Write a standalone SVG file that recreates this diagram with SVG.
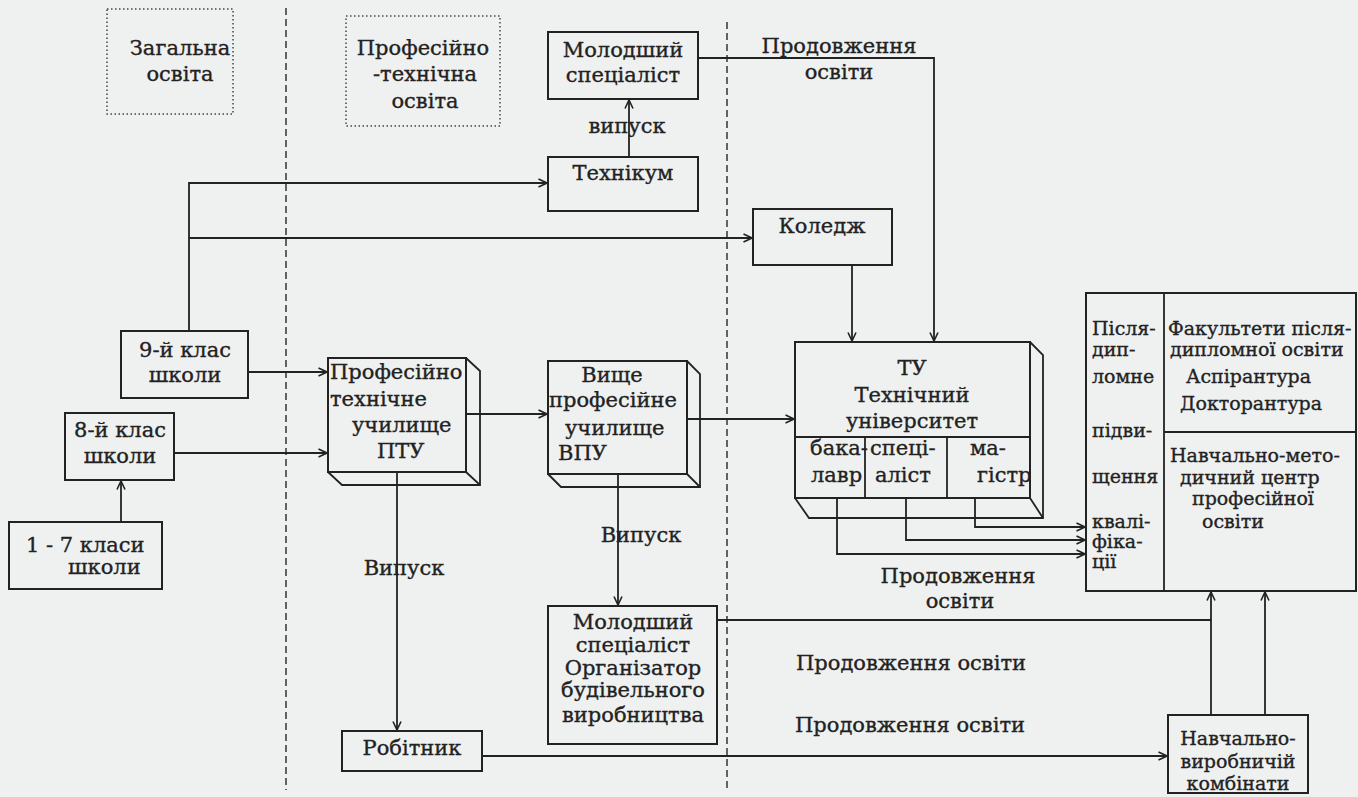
<svg xmlns="http://www.w3.org/2000/svg" width="1358" height="797" viewBox="0 0 1358 797">
<style>
text{font-family:"DejaVu Serif","Liberation Serif",serif;fill:#222;stroke:#222;stroke-width:0.35;font-size:21px}
.m{text-anchor:middle}
.s{font-size:19px}
.box{fill:none;stroke:#222;stroke-width:2}
.face{fill:none;stroke:#222;stroke-width:1.8;stroke-linejoin:miter}
.ln{fill:none;stroke:#222;stroke-width:1.8}
.arr{marker-end:url(#ah)}
.dash{fill:none;stroke:#333;stroke-width:1.5;stroke-dasharray:7 4}
.dot{fill:none;stroke:#444;stroke-width:1.5;stroke-dasharray:1.5 2.5}
</style>
<defs>
<marker id="ah" viewBox="0 0 10 10" refX="9.5" refY="5" markerWidth="10" markerHeight="10" markerUnits="userSpaceOnUse" orient="auto">
<path d="M1,1 L9.5,5 L1,9" fill="none" stroke="#222" stroke-width="1.6"/>
</marker>
</defs>
<rect width="1358" height="797" fill="#eff1f0"/>

<g id="dividers">
<line class="dash" x1="286" y1="8" x2="286" y2="790"/>
<line class="dash" x1="727" y1="22" x2="727" y2="790"/>
</g>

<g id="connectors">
<path class="ln arr" d="M189,331 V183 H547"/>
<path class="ln arr" d="M189,238 H752"/>
<path class="ln arr" d="M248,372 H327"/>
<path class="ln arr" d="M174,453 H327"/>
<path class="ln arr" d="M121,522 V481"/>
<path class="ln arr" d="M629,157 V100"/>
<path class="ln arr" d="M698,58 H934 V341"/>
<path class="ln arr" d="M852,265 V341"/>
<path class="ln arr" d="M466,414 H547"/>
<path class="ln arr" d="M687,419 H794"/>
<path class="ln arr" d="M397,472 V730"/>
<path class="ln arr" d="M618,474 V605"/>
<path class="ln arr" d="M837,498 V554 H1085"/>
<path class="ln arr" d="M906,498 V540 H1085"/>
<path class="ln arr" d="M975,498 V527 H1085"/>
<path class="ln" d="M717,620 H1211"/>
<path class="ln arr" d="M1211,715 V592"/>
<path class="ln arr" d="M1265,715 V592"/>
<path class="ln arr" d="M482,756 H1167"/>
<text class="m" x="627" y="133">випуск</text>
<text class="m" x="839" y="53">Продовження</text>
<text class="m" x="839" y="79">освіти</text>
<text class="m" x="404" y="575">Випуск</text>
<text class="m" x="641" y="542">Випуск</text>
<text class="m" x="958" y="583">Продовження</text>
<text class="m" x="960" y="608">освіти</text>
<text class="m" x="911" y="670">Продовження освіти</text>
<text class="m" x="910" y="732">Продовження освіти</text>
</g>

<g id="general-education">
<rect class="dot" x="107" y="9" width="126" height="105"/>
<text class="m" x="180" y="55">Загальна</text>
<text class="m" x="180" y="81">освіта</text>
</g>

<g id="vocational-education">
<rect class="dot" x="346" y="16" width="154" height="110"/>
<text class="m" x="423" y="55">Професійно</text>
<text class="m" x="425" y="81">-технічна</text>
<text class="m" x="425" y="108">освіта</text>
</g>

<g id="junior-specialist-1">
<rect class="box" x="548" y="32" width="150" height="67"/>
<text class="m" x="623" y="57">Молодший</text>
<text class="m" x="623" y="82">спеціаліст</text>
</g>

<g id="technikum">
<rect class="box" x="548" y="157" width="150" height="54"/>
<text class="m" x="623" y="180">Технікум</text>
</g>

<g id="college">
<rect class="box" x="753" y="209" width="139" height="56"/>
<text class="m" x="822" y="233">Коледж</text>
</g>

<g id="grade-9">
<rect class="box" x="121" y="331" width="127" height="67"/>
<text class="m" x="185" y="357">9-й клас</text>
<text class="m" x="185" y="382">школи</text>
</g>

<g id="grade-8">
<rect class="box" x="65" y="413" width="109" height="67"/>
<text class="m" x="120" y="437">8-й клас</text>
<text class="m" x="120" y="463">школи</text>
</g>

<g id="grades-1-7">
<rect class="box" x="9" y="522" width="153" height="67"/>
<text x="26" y="552">1 - 7 класи</text>
<text x="68" y="574">школи</text>
</g>

<g id="ptu">
<rect class="box" x="328" y="358" width="138" height="114"/>
<path class="face" d="M466,358 L480,371 V485 H342 L328,472"/>
<line class="face" x1="466" y1="472" x2="480" y2="485"/>
<text x="330" y="379">Професійно</text>
<text x="330" y="406">технічне</text>
<text x="352" y="432">училище</text>
<text x="377" y="458">ПТУ</text>
</g>

<g id="vpu">
<rect class="box" x="548" y="361" width="139" height="113"/>
<path class="face" d="M687,361 L700,374 V487 H561 L548,474"/>
<line class="face" x1="687" y1="474" x2="700" y2="487"/>
<text class="m" x="612" y="382">Вище</text>
<text x="549" y="407">професійне</text>
<text x="565" y="435">училище</text>
<text x="558" y="460">ВПУ</text>
</g>

<g id="tu">
<rect class="box" x="795" y="342" width="235" height="156"/>
<path class="face" d="M1030,342 L1043,355 V518 H809 L795,498"/>
<line class="face" x1="1030" y1="498" x2="1043" y2="518"/>
<line class="ln" x1="795" y1="437" x2="1030" y2="437"/>
<line class="ln" x1="865" y1="437" x2="865" y2="498"/>
<line class="ln" x1="947" y1="437" x2="947" y2="498"/>
<text class="m" x="912" y="375">ТУ</text>
<text class="m" x="912" y="402">Технічний</text>
<text class="m" x="912" y="428">університет</text>
<text x="810" y="455">бака-</text>
<text x="811" y="482">лавр</text>
<text x="870" y="455">спеці-</text>
<text x="875" y="482">аліст</text>
<text x="970" y="455">ма-</text>
<text x="977" y="482">гістр</text>
</g>

<g id="postgraduate">
<rect class="box" x="1086" y="293" width="270" height="298"/>
<line class="ln" x1="1164" y1="293" x2="1164" y2="591"/>
<line class="ln" x1="1164" y1="432" x2="1356" y2="432"/>
<text class="s" x="1092" y="335">Після-</text>
<text class="s" x="1092" y="356">дип-</text>
<text class="s" x="1092" y="383">ломне</text>
<text class="s" x="1092" y="437">підви-</text>
<text class="s" x="1092" y="483">щення</text>
<text class="s" x="1092" y="528">квалі-</text>
<text class="s" x="1092" y="548">фіка-</text>
<text class="s" x="1092" y="568">ції</text>
<text class="s" x="1168" y="335">Факультети після-</text>
<text class="s" x="1170" y="356">дипломної освіти</text>
<text class="s" x="1186" y="383">Аспірантура</text>
<text class="s" x="1180" y="410">Докторантура</text>
<text class="s" x="1170" y="462">Навчально-мето-</text>
<text class="s" x="1180" y="484">дичний центр</text>
<text class="s" x="1192" y="505">професійної</text>
<text class="s" x="1202" y="528">освіти</text>
</g>

<g id="junior-specialist-2">
<rect class="box" x="548" y="606" width="169" height="138"/>
<text class="m" x="633" y="629">Молодший</text>
<text class="m" x="633" y="652">спеціаліст</text>
<text class="m" x="633" y="675">Організатор</text>
<text class="m" x="633" y="697">будівельного</text>
<text class="m" x="633" y="722">виробництва</text>
</g>

<g id="worker">
<rect class="box" x="342" y="731" width="140" height="40"/>
<text class="m" x="412" y="755">Робітник</text>
</g>

<g id="training-plants">
<rect class="box" x="1168" y="715" width="140" height="78"/>
<text class="m s" x="1238" y="745">Навчально-</text>
<text class="m s" x="1238" y="768">виробничій</text>
<text class="m s" x="1238" y="790">комбінати</text>
</g>
</svg>
